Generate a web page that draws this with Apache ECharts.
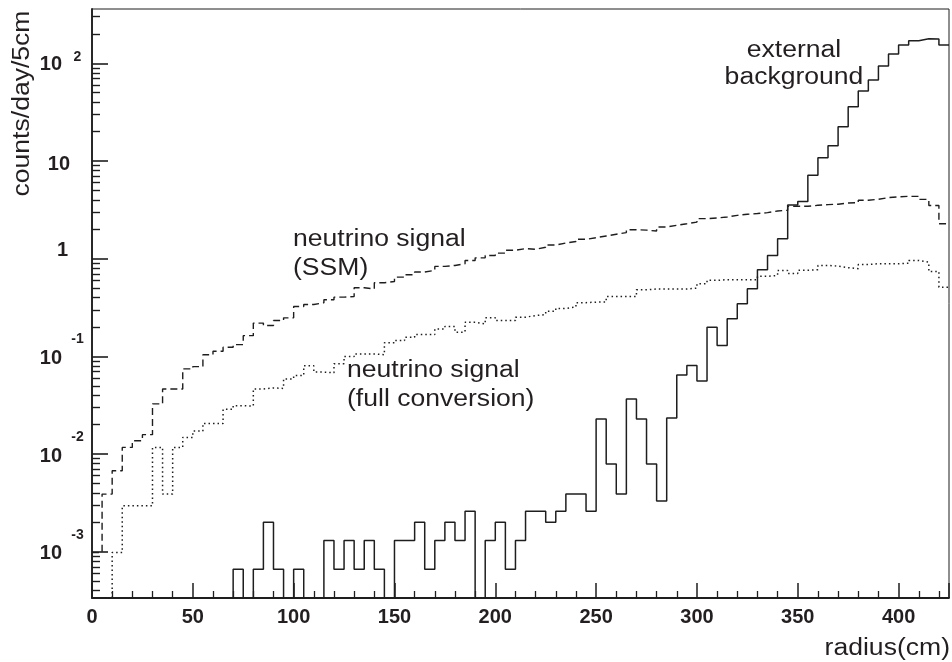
<!DOCTYPE html>
<html>
<head>
<meta charset="utf-8">
<script src="https://cdn.jsdelivr.net/npm/echarts@6.0.0/dist/echarts.min.js"></script>
<style>
  html, body { margin: 0; padding: 0; background: #fff; }
  #chart { width: 952px; height: 662px; }
</style>
</head>
<body>
<div id="chart"></div>
<script>
// Radial distribution of events in 5 cm bins, 0 - 425 cm.
const BIN_WIDTH = 5;
const R_MAX = 425;

// external background (counts/day/5cm); 0 = empty bin
const externalBackground = [
  0, 0, 0, 0, 0, 0, 0, 0, 0, 0,
  0, 0, 0, 0, 6.6e-4, 0, 6.6e-4, 2.0e-3, 6.6e-4, 0,
  6.6e-4, 0, 0, 1.3e-3, 6.6e-4, 1.3e-3, 6.6e-4, 1.3e-3, 6.6e-4, 0,
  1.3e-3, 1.3e-3, 2.0e-3, 6.6e-4, 1.3e-3, 2.0e-3, 1.3e-3, 2.6e-3, 0, 1.3e-3,
  2.0e-3, 6.6e-4, 1.3e-3, 2.6e-3, 2.6e-3, 2.0e-3, 2.6e-3, 3.9e-3, 3.9e-3, 2.6e-3,
  0.0229, 0.0079, 0.0039, 0.0366, 0.0229, 0.0079, 0.0033, 0.0234, 0.0646, 0.0805,
  0.0561, 0.199, 0.129, 0.243, 0.345, 0.492, 0.771, 1.08, 1.60, 3.55,
  3.85, 7.15, 10.8, 14.3, 22.4, 35.9, 52, 67.4, 93.8, 124.5,
  154, 170.6, 178.8, 177.5, 154
];

// neutrino signal, SSM
const signalSSM = [
  9.8e-4, 3.89e-3, 6.74e-3, 0.0117, 0.0137, 0.0158, 0.0326, 0.0464, 0.0464, 0.0744,
  0.0786, 0.104, 0.113, 0.124, 0.132, 0.163, 0.219, 0.207, 0.233, 0.248,
  0.324, 0.340, 0.354, 0.380, 0.404, 0.41, 0.504, 0.49, 0.567, 0.585,
  0.648, 0.685, 0.73, 0.759, 0.834, 0.853, 0.889, 0.96, 1.02, 1.08,
  1.14, 1.22, 1.27, 1.25, 1.31, 1.38, 1.445, 1.50, 1.58, 1.64,
  1.71, 1.78, 1.85, 1.98, 1.96, 1.92, 2.11, 2.20, 2.28, 2.37,
  2.57, 2.61, 2.67, 2.78, 2.85, 2.90, 2.96, 3.08, 3.13, 3.44,
  3.44, 3.52, 3.58, 3.61, 3.72, 3.75, 3.96, 4.06, 4.22, 4.29,
  4.35, 4.35, 4.05, 3.50, 2.28
];

// neutrino signal, full conversion
const signalFull = [
  0, 0, 9.8e-4, 2.95e-3, 2.95e-3, 2.95e-3, 0.0117, 3.89e-3, 0.0117, 0.0148,
  0.0172, 0.0206, 0.0206, 0.0287, 0.0313, 0.0310, 0.0464, 0.0475, 0.047, 0.0588,
  0.0636, 0.080, 0.069, 0.068, 0.084, 0.100, 0.106, 0.106, 0.104, 0.138,
  0.145, 0.157, 0.167, 0.167, 0.191, 0.202, 0.177, 0.224, 0.215, 0.248,
  0.233, 0.233, 0.252, 0.262, 0.268, 0.29, 0.31, 0.32, 0.355, 0.359,
  0.36, 0.41, 0.41, 0.41, 0.48, 0.49, 0.49, 0.49, 0.49, 0.50,
  0.554, 0.60, 0.61, 0.61, 0.61, 0.61, 0.66, 0.674, 0.759, 0.707,
  0.76, 0.771, 0.853, 0.84, 0.81, 0.79, 0.87, 0.889, 0.889, 0.889,
  0.90, 0.96, 0.92, 0.74, 0.51
];

// y axis decades and their minor divisions (2..9 x 10^n)
const yMajorTicks = [1e-3, 1e-2, 1e-1, 1, 10, 100];
const yMinorTicks = [];
for (let e = -4; e <= 2; e++) {
  for (let k = 2; k <= 9; k++) yMinorTicks.push(+(k * Math.pow(10, e)).toPrecision(3));
}
const Y_MIN = 3.36e-4;
const Y_MAX = 360;
const EMPTY = 1e-7; // empty bins fall below the frame

const FONT = '"Liberation Sans", Arial, Helvetica, sans-serif';
const INK = '#231f20';
const LINE = '#1e1e1e';

// histogram outline: one point per lower bin edge, plus the closing edge
function histPoints(values) {
  const pts = values.map((v, i) => [i * BIN_WIDTH, v > 0 ? v : EMPTY]);
  const last = values[values.length - 1];
  pts.push([R_MAX, last > 0 ? last : EMPTY]);
  return pts;
}

function histSeries(name, values, dash, width) {
  return {
    name: name,
    type: 'line',
    step: 'end',
    symbol: 'none',
    clip: true,
    yAxisIndex: 0,
    data: histPoints(values),
    lineStyle: { color: LINE, width: width, type: dash, cap: 'butt' },
    emphasis: { disabled: true },
    silent: true,
    animation: false
  };
}

// tick-only companion axis laid over the log axis (same range in decades)
function tickAxis(values, len, width) {
  return {
    type: 'value', position: 'left',
    min: Math.log10(Y_MIN), max: Math.log10(Y_MAX),
    axisLine: { show: false },
    axisTick: {
      show: true, inside: true, length: len,
      customValues: values.map(v => Math.log10(v)),
      lineStyle: { color: LINE, width: width }
    },
    minorTick: { show: false },
    axisLabel: { show: false },
    splitLine: { show: false }
  };
}

const chart = echarts.init(document.getElementById('chart'), null, { renderer: 'canvas' });

const labelRich = {
  b: { fontFamily: FONT, fontSize: 20, fontWeight: 'bold', color: INK, padding: [16, 0, 12, 0] },
  e: { fontFamily: FONT, fontSize: 14, fontWeight: 'bold', color: INK, verticalAlign: 'top', width: 11, align: 'left', padding: [0, 0, 0, 10] },
  ep: { fontFamily: FONT, fontSize: 14, fontWeight: 'bold', color: INK, verticalAlign: 'middle', width: 11, align: 'left', padding: [0, 0, 12, 10] },
  bp: { fontFamily: FONT, fontSize: 20, fontWeight: 'bold', color: INK, padding: [2, 0, 0, 0] },
  one: { fontFamily: FONT, fontSize: 20, fontWeight: 'bold', color: INK, padding: [0, 15, 16, 0] },
  ten: { fontFamily: FONT, fontSize: 20, fontWeight: 'bold', color: INK, padding: [6, 13, 0, 0] }
};

function annotation(text, x, y, align, rotation) {
  return {
    type: 'text', x: x, y: y, rotation: rotation || 0, scaleX: 1.13, z: 100, silent: true,
    style: { text: text, font: '23.5px ' + FONT, fill: INK, align: align, verticalAlign: 'middle' }
  };
}

const option = {
  backgroundColor: '#ffffff',
  animation: false,
  grid: {
    left: 92, right: 3, top: 9, bottom: 64,
    show: true, borderColor: LINE, borderWidth: 1
  },
  xAxis: {
    type: 'value',
    min: 0, max: R_MAX, interval: 50,
    axisLine: { show: true, onZero: false, lineStyle: { color: LINE, width: 1.8 } },
    axisTick: { show: true, inside: true, length: 15, lineStyle: { color: LINE, width: 1.5 } },
    minorTick: { show: true, splitNumber: 5, length: 7, lineStyle: { color: LINE, width: 1.3 } },
    axisLabel: {
      show: true, margin: 9, showMaxLabel: false,
      fontFamily: FONT, fontSize: 20, fontWeight: 'bold', color: INK
    },
    splitLine: { show: false },
    minorSplitLine: { show: false }
  },
  yAxis: [
    {
      type: 'log', logBase: 10, min: Y_MIN, max: Y_MAX, position: 'left',
      axisLine: { show: true, onZero: false, lineStyle: { color: LINE, width: 1.8 } },
      axisTick: { show: false },
      minorTick: { show: false },
      axisLabel: {
        show: true, margin: 9, customValues: yMajorTicks,
        formatter: function (v) {
          const n = Math.round(Math.log10(v));
          if (n === 0) return '{one|1}';
          if (n === 1) return '{ten|10}';
          if (n > 0) return '{bp|10}{ep|' + n + '}';
          return '{b|10}{e|' + n + '}';
        },
        rich: labelRich
      },
      splitLine: { show: false }
    },
    tickAxis(yMajorTicks, 16, 1.6),
    tickAxis(yMinorTicks, 8, 1.4)
  ],
  graphic: [
    annotation('counts/day/5cm', 23, 103.5, 'center', Math.PI / 2),
    annotation('radius(cm)', 950, 649, 'right'),
    annotation('external', 794, 50.5, 'center'),
    annotation('background', 794, 77.5, 'center'),
    annotation('neutrino signal', 293, 240, 'left'),
    annotation('(SSM)', 293, 269, 'left'),
    annotation('neutrino signal', 347, 370.5, 'left'),
    annotation('(full conversion)', 347, 399.5, 'left')
  ],
  series: [
    histSeries('external background', externalBackground, 'solid', 1.5),
    histSeries('neutrino signal (SSM)', signalSSM, [7, 4], 1.4),
    histSeries('neutrino signal (full conversion)', signalFull, [1.5, 3], 1.5)
  ]
};

chart.setOption(option);
</script>
</body>
</html>
